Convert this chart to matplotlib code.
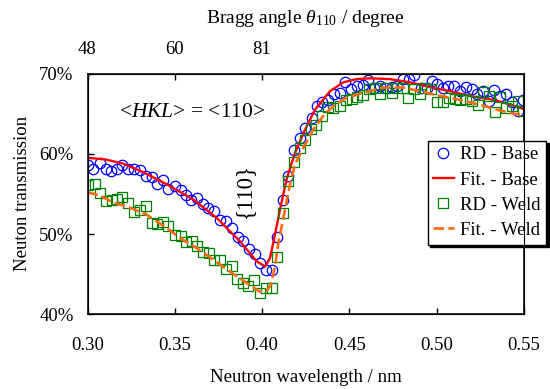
import matplotlib
matplotlib.use("Agg")
import matplotlib.pyplot as plt
from matplotlib.ticker import FuncFormatter

plt.rcParams['font.family'] = ['Liberation Serif', 'DejaVu Serif']
plt.rcParams['mathtext.fontset'] = 'custom'
plt.rcParams['mathtext.rm'] = 'Liberation Serif'
plt.rcParams['mathtext.it'] = 'Liberation Serif:italic'

# ---------------- data ----------------
base_wl = [0.3005, 0.3033, 0.3072, 0.3104, 0.3135, 0.3167, 0.3199, 0.3234, 0.3266, 0.3301,
           0.3333, 0.3368, 0.3400, 0.3434, 0.3463, 0.3501, 0.3534, 0.3564, 0.3593, 0.3625,
           0.3660, 0.3692, 0.3725, 0.3759, 0.3792, 0.3826, 0.3860, 0.3892, 0.3925, 0.3959,
           0.3988, 0.4021, 0.4055, 0.4084, 0.4121, 0.4150, 0.4184, 0.4217, 0.4246, 0.4284,
           0.4316, 0.4345, 0.4379, 0.4413, 0.4446, 0.4475, 0.4509, 0.4542, 0.4576, 0.4608,
           0.4643, 0.4675, 0.4710, 0.4742, 0.4774, 0.4805, 0.4841, 0.4872, 0.4910, 0.4943,
           0.4971, 0.5000, 0.5034, 0.5066, 0.5101, 0.5133, 0.5168, 0.5200, 0.5233, 0.5267,
           0.5300, 0.5330, 0.5363, 0.5397, 0.5430, 0.5464, 0.5496]
base_T = [58.66, 58.13, 58.79, 58.16, 57.83, 58.04, 58.54, 58.04, 58.04, 57.95,
          57.29, 57.13, 56.29, 56.79, 55.66, 55.95, 55.54, 54.83, 54.29, 54.50,
          53.79, 53.25, 52.83, 51.79, 51.58, 50.75, 49.63, 49.08, 48.13, 47.50,
          46.38, 45.54, 45.54, 49.60, 54.20, 57.20, 60.45, 62.00, 63.25, 64.40,
          65.95, 66.50, 66.66, 67.50, 67.60, 68.90, 68.04, 68.45, 68.60, 69.16,
          68.25, 68.45, 68.25, 68.30, 68.40, 69.30, 69.30, 69.80, 68.25, 68.20,
          69.10, 68.75, 68.25, 68.50, 68.45, 67.80, 68.30, 68.04, 67.50, 67.80,
          66.60, 67.90, 67.20, 67.40, 66.50, 65.30, 66.70]

weld_wl = [0.3003, 0.3043, 0.3072, 0.3106, 0.3139, 0.3167, 0.3200, 0.3234, 0.3268, 0.3301,
           0.3335, 0.3368, 0.3400, 0.3434, 0.3463, 0.3501, 0.3533, 0.3564, 0.3597, 0.3627,
           0.3662, 0.3694, 0.3727, 0.3761, 0.3792, 0.3826, 0.3859, 0.3892, 0.3921, 0.3954,
           0.3988, 0.4021, 0.4055, 0.4085, 0.4120, 0.4150, 0.4184, 0.4215, 0.4246, 0.4279,
           0.4309, 0.4343, 0.4379, 0.4406, 0.4446, 0.4478, 0.4513, 0.4544, 0.4578, 0.4611,
           0.4644, 0.4674, 0.4711, 0.4742, 0.4774, 0.4809, 0.4837, 0.4870, 0.4904, 0.4933,
           0.4966, 0.5000, 0.5036, 0.5069, 0.5103, 0.5135, 0.5170, 0.5200, 0.5235, 0.5265,
           0.5301, 0.5332, 0.5363, 0.5397, 0.5430, 0.5464, 0.5496]
weld_T = [56.16, 56.29, 55.10, 54.08, 54.29, 54.38, 54.60, 53.88, 52.70, 52.98,
          53.54, 51.41, 51.23, 51.54, 50.98, 49.91, 49.73, 49.04, 49.08, 48.48,
          47.79, 47.66, 46.79, 46.79, 45.63, 46.00, 44.44, 43.95, 43.54, 44.29,
          42.60, 43.25, 43.25, 47.16, 52.66, 56.58, 58.95, 60.69, 61.75, 63.04,
          63.54, 64.70, 65.88, 65.66, 65.95, 66.75, 66.83, 67.04, 67.35, 68.08,
          68.19, 67.41, 68.23, 67.51, 68.25, 68.25, 67.00, 68.04, 67.41, 68.14,
          68.04, 66.41, 66.41, 67.00, 66.85, 66.73, 66.79, 66.58, 66.10, 67.66,
          67.14, 65.16, 67.10, 65.75, 65.95, 66.58, 65.33]

fit_base_wl = [0.3000, 0.3100, 0.3200, 0.3320, 0.3470, 0.3606, 0.3740, 0.3873, 0.3969, 0.4017,
               0.4045, 0.4064, 0.4102, 0.4140, 0.4188, 0.4246, 0.4303, 0.4389, 0.4465, 0.4542,
               0.4618, 0.4733, 0.4847, 0.4962, 0.5076, 0.5191, 0.5305, 0.5380, 0.5496]
fit_base_T = [59.5, 59.3, 58.8, 57.7, 56.0, 54.3, 52.0, 49.1, 46.6, 45.95,
              47.0, 48.9, 53.0, 56.8, 60.1, 63.0, 65.5, 67.8, 68.9, 69.3,
              69.4, 69.3, 68.9, 68.3, 67.8, 67.2, 66.8, 66.4, 65.6]

fit_weld_wl = [0.3000, 0.3072, 0.3148, 0.3225, 0.3339, 0.3454, 0.3530, 0.3625, 0.3721, 0.3817,
               0.3912, 0.3988, 0.4030, 0.4050, 0.4074, 0.4093, 0.4131, 0.4160, 0.4189, 0.4236,
               0.4293, 0.4350, 0.4408, 0.4484, 0.4580, 0.4694, 0.4809, 0.4904, 0.5000, 0.5115,
               0.5229, 0.5344, 0.5439, 0.5480]
fit_weld_T = [55.2, 54.8, 53.9, 53.45, 52.4, 50.75, 49.5, 48.25, 46.8, 45.3,
              43.9, 42.8, 43.0, 43.7, 45.95, 48.9, 53.0, 56.2, 58.7, 60.75,
              63.0, 64.7, 65.95, 67.0, 67.6, 68.25, 68.25, 67.8, 67.3, 66.8,
              66.2, 65.5, 65.0, 64.9]

x_ticks = [0.30, 0.35, 0.40, 0.45, 0.50, 0.55]
y_ticks = [40, 50, 60, 70]
top_ticks = [0.30, 0.35, 0.40]
top_labels = ['48', '60', '81']

# ---------------- figure ----------------
FS = 13.5
fig = plt.figure(figsize=(5.5, 3.89), dpi=100)
ax = fig.add_axes([87.5/550, 1-314.3/389, (524-87.5)/550, (314.3-73.5)/389])

h1, = ax.plot(base_wl, base_T, linestyle='none', marker='o', markersize=7.5,
              markerfacecolor='none', markeredgecolor='#0000FF', markeredgewidth=0.9,
              label='RD - Base')
h2, = ax.plot(fit_base_wl, fit_base_T, color='#FF0000', lw=1.7, label='Fit. - Base')
h3, = ax.plot(weld_wl, weld_T, linestyle='none', marker='s', markersize=7.5,
              markerfacecolor='none', markeredgecolor='#008000', markeredgewidth=0.9,
              label='RD - Weld')
h4, = ax.plot(fit_weld_wl, fit_weld_T, color='#FF6A10', lw=1.9, dashes=(4, 1.6),
              label='Fit. - Weld')

ax.set_xlim(0.30, 0.55)
ax.set_ylim(40, 70)
ax.set_xticks(x_ticks)
ax.set_xticklabels(['%.2f' % v for v in x_ticks])
ax.set_yticks(y_ticks)
ax.yaxis.set_major_formatter(FuncFormatter(lambda v, p: '%d%%' % v))
ax.tick_params(axis='both', direction='in', length=4.5, width=1.0, labelsize=FS,
               top=False, right=False)
ax.tick_params(axis='x', pad=16)
ax.tick_params(axis='y', pad=10)
for s in ax.spines.values():
    s.set_linewidth(1.1)
ax.set_xlabel('Neutron wavelength / nm', fontsize=FS, labelpad=11)
ax.set_ylabel('Neuton transmission', fontsize=FS, labelpad=6)

ax2 = ax.twiny()
ax2.set_xlim(ax.get_xlim())
ax2.set_xticks(top_ticks)
ax2.set_xticklabels(top_labels)
ax2.tick_params(axis='x', direction='in', length=4.5, width=1.0, labelsize=FS, pad=11)
ax2.set_xlabel(r'Bragg angle $\mathit{\theta}_{110}$ / degree', fontsize=14, labelpad=13)

ax.text(0.239, 0.84, r'<$\mathit{HKL}$> = <110>', transform=ax.transAxes,
        fontsize=15.5, ha='center', va='center')
ax.text(0.359, 0.515, '{110}', transform=ax.transAxes, fontsize=16.5,
        rotation=90, ha='center', va='center')

leg = ax.legend(handles=[h1, h2, h3, h4], loc='upper left',
                bbox_to_anchor=(0.779, 0.721), borderaxespad=0,
                fontsize=FS, frameon=True, fancybox=False,
                shadow={'color': 'black', 'alpha': 1.0},
                edgecolor='black', framealpha=1, numpoints=1,
                handlelength=1.1, handletextpad=0.35, labelspacing=0.43,
                borderpad=0.3)
leg.get_frame().set_linewidth(1.0)

fig.savefig('out.png', dpi=100)
